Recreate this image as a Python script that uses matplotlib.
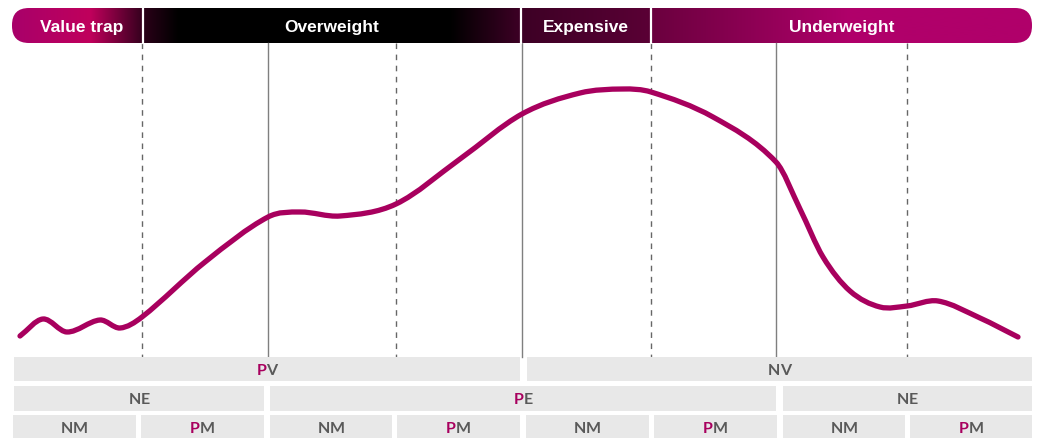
import numpy as np
import matplotlib
matplotlib.use("Agg")
import matplotlib.pyplot as plt
from matplotlib.patches import FancyBboxPatch, Rectangle, PathPatch
from matplotlib.path import Path
from matplotlib.colors import to_rgb

MAGENTA = "#a8005e"
GREY_TXT = "#595959"
BOX = "#e8e8e8"

# cycle curve (canvas units: x right, y down)
curve_x = [20, 43, 67, 100, 120, 142, 205, 268, 300, 340, 396, 460, 522,
           580, 623, 651, 713, 776, 800, 823, 850, 880, 907, 938, 980, 1018]
curve_y = [337, 320, 333, 321, 329, 318, 263, 218, 213, 217, 205, 160, 115,
           94, 90, 93, 118, 163, 210, 258, 292, 308, 307, 302, 319, 338]

# header phases
phase_names = ["Value trap", "Overweight", "Expensive", "Underweight"]
phase_edges = [12, 143, 521, 651, 1032]
# header colour stops (x, colour)
grad_stops = [(12, "#a8006a"), (90, "#c0005c"), (140, "#3a0020"), (144, "#2a0018"),
              (178, "#000000"), (450, "#000000"), (520, "#3d0025"), (523, "#3d0025"),
              (650, "#5a0035"), (652, "#6a003e"), (850, "#b0006a"), (1032, "#b0006a")]

dashed_x = [142, 396, 651, 907]
solid_x = [268, 522, 776]

# bottom rows: (label, left, right)
row1 = [("PV", 14, 520), ("NV", 527, 1032)]
row2 = [("NE", 14, 264), ("PE", 270, 776), ("NE", 783, 1032)]
row3 = [("NM", 13, 136), ("PM", 141, 264), ("NM", 270, 392), ("PM", 397, 520),
        ("NM", 526, 649), ("PM", 654, 777), ("NM", 783, 905), ("PM", 910, 1032)]
row_y = [(358, 382), (387, 412), (416, 440)]

fig = plt.figure(figsize=(10.39, 4.39), dpi=100)
ax = fig.add_axes([0, 0, 1, 1])
ax.set_xlim(0, 1039); ax.set_ylim(439, 0); ax.axis("off")

# ---- header band with gradient ----
xs = np.arange(12, 1033)
sx = [s[0] for s in grad_stops]
cols = np.array([to_rgb(s[1]) for s in grad_stops])
img = np.stack([np.interp(xs, sx, cols[:, k]) for k in range(3)], axis=-1)[None, :, :]
band = FancyBboxPatch((12, 9), 1020, 35, boxstyle="round,pad=0,rounding_size=17",
                      fc="none", ec="none")
ax.add_patch(band)
im = ax.imshow(img, extent=(12, 1032, 44, 9), aspect="auto", interpolation="bilinear", zorder=1)
im.set_clip_path(band)
for x in phase_edges[1:-1]:
    ax.plot([x, x], [9, 44], color="white", lw=1.6, zorder=2)
for name, a, b in zip(phase_names, phase_edges[:-1], phase_edges[1:]):
    xc = (a + b) / 2 + (4 if name == "Value trap" else 0)
    ax.text(xc, 27.5, name, color="white", fontsize=12.5, fontweight="bold",
            family="Liberation Sans", ha="center", va="center", zorder=3)

# ---- vertical guides ----
for x in solid_x:
    ax.plot([x, x], [44, 358], color="#7f7f7f", lw=1.0, zorder=1)
for x in dashed_x:
    ax.plot([x, x], [44, 358], color="#666666", lw=1.0, ls=(0, (4, 4)), zorder=1)

# ---- smooth curve (cubic Hermite through the points, drawn as Bezier) ----
X = np.array(curve_x, float); Y = np.array(curve_y, float)
n = len(X)
s = np.empty(n)
s[1:-1] = (Y[2:] - Y[:-2]) / (X[2:] - X[:-2])
s[0] = (Y[1] - Y[0]) / (X[1] - X[0])
s[-1] = (Y[-1] - Y[-2]) / (X[-1] - X[-2])
verts = [(X[0], Y[0])]; codes = [Path.MOVETO]
for i in range(n - 1):
    dx = X[i + 1] - X[i]
    verts += [(X[i] + dx / 3, Y[i] + s[i] * dx / 3),
              (X[i + 1] - dx / 3, Y[i + 1] - s[i + 1] * dx / 3),
              (X[i + 1], Y[i + 1])]
    codes += [Path.CURVE4] * 3
ax.add_patch(PathPatch(Path(verts, codes), fc="none", ec=MAGENTA, lw=3.8,
                       capstyle="round", joinstyle="round", zorder=4))

# ---- bottom label rows ----
fig.canvas.draw()
rend = fig.canvas.get_renderer()

def label(xc, yc, txt):
    kw = dict(fontsize=11.5, fontweight="bold", family="Lato", ha="left", va="center", zorder=3)
    first = ax.text(0, yc, txt[0], color=MAGENTA if txt[0] == "P" else GREY_TXT, **kw)
    rest = ax.text(0, yc, txt[1:], color=GREY_TXT, **kw)
    w1 = first.get_window_extent(rend).width
    w2 = rest.get_window_extent(rend).width
    x0 = xc - (w1 + w2) / 2
    first.set_x(x0)
    rest.set_x(x0 + w1)

for row, (y0, y1) in zip([row1, row2, row3], row_y):
    for txt, a, b in row:
        ax.add_patch(Rectangle((a, y0), b - a, y1 - y0, fc=BOX, ec="none", zorder=1))
        label((a + b) / 2, (y0 + y1) / 2 + 1, txt)

fig.savefig("out.png", dpi=100)
